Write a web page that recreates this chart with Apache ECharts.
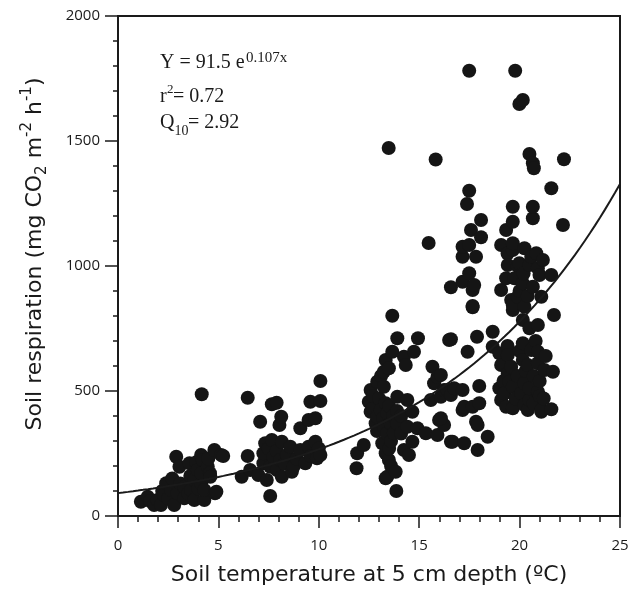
<!DOCTYPE html>
<html lang="en">
<head>
    <meta charset="utf-8" />
    <title>Soil respiration vs soil temperature</title>
    <script src="https://cdn.jsdelivr.net/npm/echarts@6/dist/echarts.min.js"></script>
    <style>
        body {
            margin: 0;
            padding: 0;
            background: #fff;
        }

        #main {
            width: 628px;
            height: 589px;
        }
    </style>
</head>
<body>
<div id="main"></div>
<script type="text/javascript">
    // Measured points [soil temperature (ºC), soil respiration], grouped by cluster
    const pointsCold = [
        [1.14, 57], [1.48, 77], [1.6, 60], [1.8, 44], [1.97, 64], [2.14, 44], [2.2, 100], [2.3, 84],
        [2.4, 131], [2.5, 70], [2.64, 104], [2.7, 150], [2.8, 44], [2.9, 237], [2.97, 91], [3.06, 197],
        [3.1, 130], [3.3, 71], [3.3, 117], [3.5, 90], [3.56, 211], [3.6, 160], [3.64, 104], [3.8, 64],
        [3.8, 144], [3.9, 215], [3.97, 184], [4.0, 110], [4.14, 131], [4.14, 171], [4.14, 244], [4.17, 487],
        [4.22, 224], [4.3, 64], [4.3, 104], [4.47, 197], [4.5, 230], [4.58, 171], [4.6, 157], [4.8, 264],
        [4.83, 91], [4.9, 97], [5.14, 244], [5.24, 240]
    ];
    const pointsMild = [
        [6.16, 157], [6.46, 240], [6.46, 473], [6.58, 184], [6.99, 164], [7.08, 377], [7.24, 211], [7.24, 251],
        [7.33, 291], [7.41, 144], [7.5, 270], [7.58, 80], [7.58, 197], [7.66, 304], [7.66, 447], [7.74, 237],
        [7.9, 453], [7.9, 260], [7.91, 184], [8.04, 364], [8.08, 224], [8.13, 397], [8.16, 157], [8.16, 297],
        [8.3, 210], [8.41, 244], [8.58, 277], [8.66, 177], [8.74, 197], [8.9, 230], [9.08, 264], [9.08, 351],
        [9.33, 211], [9.49, 277], [9.49, 384], [9.58, 457], [9.6, 240], [9.83, 297], [9.83, 391], [9.91, 231],
        [10.0, 270], [10.08, 244], [10.08, 460], [10.08, 540]
    ];
    const pointsWarm = [
        [11.88, 191], [11.91, 251], [12.24, 284], [12.49, 457], [12.58, 417], [12.58, 504], [12.7, 430], [12.7, 480],
        [12.83, 371], [12.9, 340], [12.91, 397], [12.91, 537], [13.0, 470], [13.08, 424], [13.1, 560], [13.16, 291],
        [13.2, 390], [13.24, 357], [13.24, 517], [13.24, 577], [13.33, 151], [13.33, 251], [13.33, 451], [13.33, 624],
        [13.4, 330], [13.41, 157], [13.41, 411], [13.48, 1472], [13.49, 224], [13.49, 591], [13.5, 270], [13.5, 440],
        [13.58, 371], [13.6, 200], [13.6, 300], [13.66, 657], [13.66, 801], [13.7, 400], [13.74, 331], [13.83, 177],
        [13.86, 100], [13.9, 370], [13.9, 420], [13.91, 477], [13.91, 711], [14.1, 330], [14.1, 400], [14.24, 264],
        [14.24, 637], [14.33, 604], [14.41, 357], [14.41, 464], [14.49, 244], [14.66, 297], [14.66, 417], [14.74, 657],
        [14.91, 351], [14.94, 711], [15.33, 331], [15.47, 1092], [15.58, 464], [15.66, 597], [15.74, 531], [15.82, 1426],
        [15.91, 324], [15.91, 557], [15.99, 384], [16.08, 477], [16.24, 364], [16.24, 504], [16.49, 704], [16.58, 297]
    ];
    const pointsHotLow = [
        [16.08, 391], [16.08, 564], [16.41, 504], [16.58, 484], [16.58, 707], [16.66, 297], [16.74, 511], [17.16, 424],
        [17.16, 504], [17.24, 291], [17.24, 437], [17.41, 657], [17.66, 437], [17.66, 835], [17.83, 377], [17.88, 717],
        [17.91, 264], [17.91, 364], [17.99, 451], [17.99, 520], [18.41, 317], [18.66, 677], [18.66, 737], [18.99, 511],
        [18.99, 651], [19.08, 464], [19.08, 604], [19.2, 540], [19.24, 491], [19.33, 437], [19.4, 680], [19.41, 571],
        [19.41, 644], [19.49, 537], [19.58, 597], [19.66, 431], [19.66, 517], [19.66, 824], [19.8, 470], [19.9, 560],
        [20.0, 660], [20.08, 491], [20.16, 624], [20.16, 691], [20.16, 784], [20.24, 444], [20.24, 531], [20.3, 580],
        [20.41, 424], [20.41, 604], [20.49, 464], [20.49, 511], [20.49, 751], [20.58, 664], [20.7, 450], [20.7, 560],
        [20.8, 700], [20.91, 497], [20.91, 611], [20.91, 657], [20.91, 764], [21.0, 480], [21.0, 540], [21.08, 417],
        [21.08, 424], [21.2, 470], [21.24, 584], [21.3, 640], [21.58, 427], [21.66, 577], [21.71, 804]
    ];
    const pointsHotHigh = [
        [16.58, 915], [17.16, 937], [17.16, 1037], [17.16, 1077], [17.38, 1248], [17.49, 971], [17.49, 1084], [17.49, 1301],
        [17.49, 1781], [17.58, 1144], [17.66, 840], [17.66, 904], [17.74, 924], [17.83, 1037], [18.08, 1115], [18.08, 1184],
        [19.08, 904], [19.08, 1084], [19.33, 951], [19.33, 1144], [19.4, 1050], [19.41, 1004], [19.58, 864], [19.66, 844],
        [19.66, 1064], [19.66, 1091], [19.66, 1177], [19.66, 1237], [19.74, 951], [19.78, 1781], [19.9, 1000], [19.91, 877],
        [19.99, 1011], [19.99, 1648], [20.0, 900], [20.16, 931], [20.16, 1664], [20.2, 970], [20.24, 837], [20.24, 1071],
        [20.4, 880], [20.49, 1004], [20.49, 1448], [20.58, 1037], [20.66, 917], [20.66, 1191], [20.66, 1237], [20.66, 1411],
        [20.71, 1391], [20.83, 1051], [20.91, 991], [20.99, 964], [21.08, 877], [21.16, 1024], [21.58, 964], [21.58, 1311],
        [22.16, 1164], [22.21, 1427]
    ];

    // Fitted model shown on the chart: Y = a * e^(b x)
    const fitA = 91.5;
    const fitB = 0.107;
    const xTicks = [0, 5, 10, 15, 20, 25];
    const yTicks = [0, 500, 1000, 1500, 2000];

    const scatterData = [].concat(pointsCold, pointsMild, pointsWarm, pointsHotLow, pointsHotHigh);
    const fitData = [];
    for (let t = 0; t <= 100; t++) {
        const x = t * 0.25;
        fitData.push([x, fitA * Math.exp(fitB * x)]);
    }

    const ink = '#1a1a1a';
    const sans = 'Open Sans';
    const titleFont = 'DejaVu Sans';
    const serif = 'Liberation Serif';

    const myChart = echarts.init(document.getElementById('main'), null, {renderer: 'canvas'});

    const option = {
        backgroundColor: '#ffffff',
        animation: false,
        grid: {
            left: 118,
            right: 8,
            top: 16,
            bottom: 73,
            outerBoundsMode: 'none',
            show: true,
            borderColor: ink,
            borderWidth: 2
        },
        xAxis: {
            type: 'value',
            min: xTicks[0],
            max: xTicks[xTicks.length - 1],
            interval: 5,
            name: 'Soil temperature at 5 cm depth (ºC)',
            nameLocation: 'middle',
            nameGap: 48,
            nameTextStyle: {color: ink, fontSize: 22, fontFamily: titleFont},
            axisLine: {lineStyle: {color: ink, width: 2}},
            axisTick: {length: 12, lineStyle: {color: ink, width: 1.5}},
            minorTick: {show: true, splitNumber: 5, length: 6, lineStyle: {color: ink, width: 1.5}},
            axisLabel: {color: ink, fontSize: 15, fontFamily: sans, margin: 22},
            splitLine: {show: false}
        },
        yAxis: {
            type: 'value',
            min: yTicks[0],
            max: yTicks[yTicks.length - 1],
            interval: 500,
            name: 'Soil respiration (mg CO{sub|2} m{sup|-2} h{sup|-1})',
            nameLocation: 'middle',
            nameGap: 68,
            nameTextStyle: {
                color: ink,
                fontSize: 22,
                fontFamily: titleFont,
                lineHeight: 30,
                padding: [0, 0, 0, 24],
                rich: {
                    sub: {fontSize: 15, fontFamily: titleFont, color: ink, lineHeight: 14, verticalAlign: 'bottom'},
                    sup: {fontSize: 15, fontFamily: titleFont, color: ink, lineHeight: 14, verticalAlign: 'top'}
                }
            },
            axisLine: {lineStyle: {color: ink, width: 2}},
            axisTick: {length: 13, lineStyle: {color: ink, width: 1.5}},
            minorTick: {show: true, splitNumber: 5, length: 5, lineStyle: {color: ink, width: 1.5}},
            axisLabel: {
                color: ink,
                fontSize: 15,
                fontFamily: sans,
                margin: 18,
                formatter: function (v) { return String(v); }
            },
            splitLine: {show: false}
        },
        graphic: [
            {type: 'text', left: 160, top: 53, style: {text: 'Y = 91.5 e', fontSize: 20, fontFamily: serif, fill: ink}},
            {type: 'text', left: 246, top: 51, style: {text: '0.107x', fontSize: 15, fontFamily: serif, fill: ink}},
            {type: 'text', left: 160, top: 87, style: {text: 'r', fontSize: 20, fontFamily: serif, fill: ink}},
            {type: 'text', left: 167, top: 83, style: {text: '2', fontSize: 13, fontFamily: serif, fill: ink}},
            {type: 'text', left: 173, top: 87, style: {text: '= 0.72', fontSize: 20, fontFamily: serif, fill: ink}},
            {type: 'text', left: 160, top: 113, style: {text: 'Q', fontSize: 20, fontFamily: serif, fill: ink}},
            {type: 'text', left: 174.5, top: 124, style: {text: '10', fontSize: 14, fontFamily: serif, fill: ink}},
            {type: 'text', left: 188, top: 113, style: {text: '= 2.92', fontSize: 20, fontFamily: serif, fill: ink}}
        ],
        series: [
            {
                name: 'Soil respiration',
                type: 'scatter',
                data: scatterData,
                symbolSize: 14,
                itemStyle: {color: '#151515', opacity: 1},
                z: 2
            },
            {
                name: 'Fit',
                type: 'line',
                data: fitData,
                showSymbol: false,
                smooth: false,
                lineStyle: {color: ink, width: 2},
                z: 3
            }
        ]
    };

    myChart.setOption(option);
</script>
</body>
</html>
